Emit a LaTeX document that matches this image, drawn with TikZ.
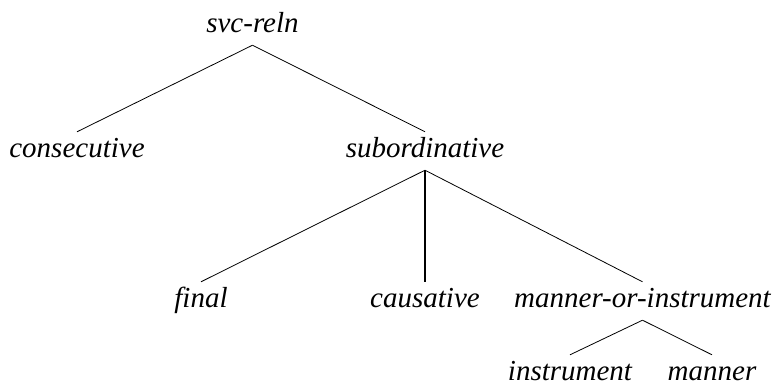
\documentclass[tikz,border=0pt]{standalone}
\usepackage{fontspec}
\setmainfont{Liberation Serif}
\begin{document}
\begin{tikzpicture}[x=1pt,y=1pt,
  lbl/.style={font=\fontsize{29}{31}\selectfont\itshape, anchor=base, inner sep=3.5pt, text height=21.5pt, text depth=9.5pt},
  edge/.style={line width=0.8pt},
  thick edge/.style={line width=1.8pt}]
\useasboundingbox (0,0) rectangle (774,-388);
\node[lbl] (svc) at (252.5,-32) {svc-reln};
\node[lbl] (cons) at (77,-157) {consecutive};
\node[lbl] (sub) at (425,-157) {subordinative};
\node[lbl] (fin) at (201,-307) {final};
\node[lbl] (caus) at (425,-307) {causative};
\node[lbl] (moi) at (642.5,-307) {manner-or-instrument};
\node[lbl] (inst) at (570,-380) {instrument};
\node[lbl] (man) at (712,-380) {manner};
\draw[edge] (svc.south) -- (cons.north);
\draw[edge] (svc.south) -- (sub.north);
\draw[edge] (sub.south) -- (fin.north);
\draw[thick edge] (sub.south) -- (caus.north);
\draw[edge] (sub.south) -- (moi.north);
\draw[edge] (moi.south) -- (inst.north);
\draw[edge] (moi.south) -- (man.north);
\end{tikzpicture}
\end{document}
